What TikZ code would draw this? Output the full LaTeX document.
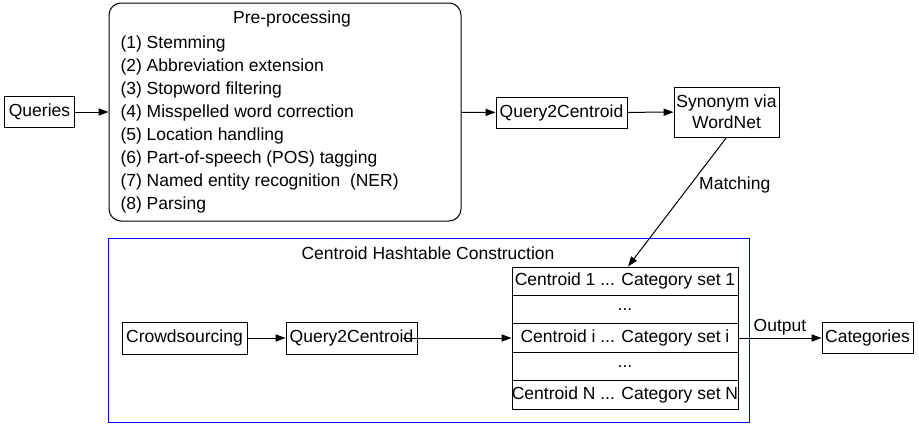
\documentclass[tikz,border=0pt]{standalone}
\usepackage{fontspec}
\setmainfont{Liberation Sans}
\usetikzlibrary{arrows.meta}

\begin{document}
\begin{tikzpicture}[x=0.5pt, y=-0.5pt, line width=0.5pt,
	every node/.style={font=\fontsize{8.75pt}{10.5pt}\selectfont},
	>={Triangle[length=5pt, width=3.6pt]},
	box/.style={draw, inner sep=0pt, minimum height=15.5pt},
	row/.style={draw, inner sep=0pt, minimum width=113pt, minimum height=14.2pt}]
	\useasboundingbox (0,0) rectangle (919,423);
	% upper chain
	\node[box, minimum width=35pt] (qry) at (39.5,112) {Queries};
	\node[draw, rounded corners=6pt, minimum width=176pt, minimum height=109pt] (pre) at (285,112) {};
	\node (pretitle) at (292,19) {Pre-processing};
	\foreach \t [count=\i] in {Stemming, Abbreviation extension, Stopword filtering, Misspelled word correction, Location handling, Part-of-speech (POS) tagging, Named entity recognition\ \ (NER), Parsing}
		\node[anchor=base west, inner sep=0pt] (item\i) at (120,25+23*\i) {(\i) \t};
	\node[box, minimum width=65.5pt] (qca) at (561.5,112.5) {Query2Centroid};
	\node[box, minimum width=52.5pt, minimum height=25pt, align=center] (syn) at (726.5,112) {Synonym via\\WordNet};
	% hashtable construction
	\node[draw=blue, inner sep=0pt, minimum width=320.5pt, minimum height=92pt] (hash) at (428.5,330) {};
	\node (hashtitle) at (428,253) {Centroid Hashtable Construction};
	\node[box, minimum width=62.5pt, minimum height=16pt] (crowd) at (184.5,338) {Crowdsourcing};
	\node[box, minimum width=65.5pt, minimum height=16pt] (qcb) at (351.5,338) {Query2Centroid};
	\node[row] (row1) at (625,281.2) {Centroid 1 ... Category set 1};
	\node[row] (row2) at (625,309.6) {...};
	\node[row] (row3) at (625,338) {Centroid i ... Category set i};
	\node[row] (row4) at (625,366.4) {...};
	\node[row] (row5) at (625,394.8) {\makebox[113pt]{Centroid N ... Category set N}};
	\node[box, minimum width=45.5pt] (cat) at (867.5,338) {Categories};
	% arrows
	\draw[->] (qry) -- (pre);
	\draw[->] (pre) -- (qca);
	\draw[->] (qca) -- (syn);
	\draw[->] (syn.south) -- node[pos=0.37, right=1pt] (match) {Matching} ([xshift=1.5pt]row1.north);
	\draw[->] (crowd) -- (qcb);
	\draw[->] ([xshift=-7.5pt]qcb.east) -- (row3.west);
	\draw[->] (row3) -- node[above, inner sep=1pt] (out) {Output} (cat);
\end{tikzpicture}
\end{document}
